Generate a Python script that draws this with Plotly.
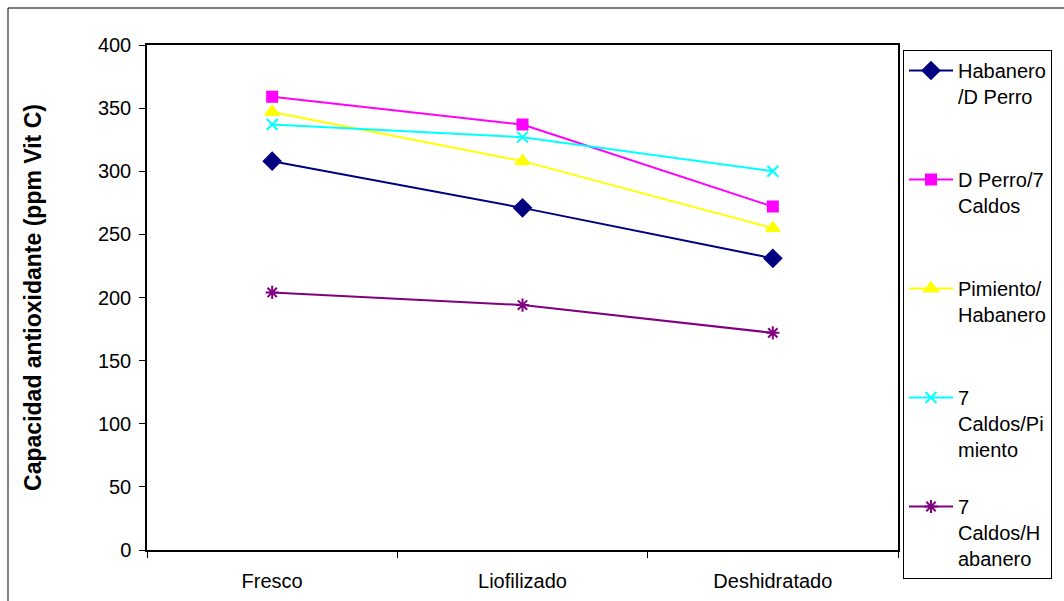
import plotly.graph_objects as go

# Processing methods (x categories)
etapas = ["Fresco", "Liofilizado", "Deshidratado"]

# Antioxidant capacity per cross (ppm Vit C)
habanero_dperro = [308, 271, 231]
dperro_7caldos = [359, 337, 272]
pimiento_habanero = [347, 308, 255]
caldos_pimiento = [337, 327, 300]
caldos_habanero = [204, 194, 172]

y_ticks = [0, 50, 100, 150, 200, 250, 300, 350, 400]

series = [
    ("Habanero<br>/D Perro<br> ", habanero_dperro, "#000080", "diamond", 13),
    ("D Perro/7<br>Caldos<br> ", dperro_7caldos, "#FF00FF", "square", 10),
    ("Pimiento/<br>Habanero<br> ", pimiento_habanero, "#FFFF00", "triangle-up", 12),
    ("7<br>Caldos/Pi<br>miento", caldos_pimiento, "#00FFFF", "x-thin-open", 11),
    ("7<br>Caldos/H<br>abanero", caldos_habanero, "#800080", "asterisk-open", 11),
]

fig = go.Figure()
for i, (name, vals, color, sym, size) in enumerate(series):
    fig.add_trace(go.Scatter(
        x=etapas, y=vals, name=name, mode="lines+markers",
        legendgroup=f"g{i}",
        line=dict(color=color, width=2),
        marker=dict(symbol=sym, size=size, color=color,
                    line=dict(color=color, width=2)),
    ))

W, H = 1064, 601
L, R, T, B = 147, 898, 45, 550
pw, ph = R - L, B - T

fig.update_layout(
    width=W, height=H,
    margin=dict(l=L, r=W - R, t=T, b=H - B),
    paper_bgcolor="white", plot_bgcolor="white",
    font=dict(family="Liberation Sans, Arial, sans-serif", size=20, color="black"),
    showlegend=True,
    legend=dict(
        x=(903 - L) / pw, xanchor="left",
        y=(B - 50) / ph, yanchor="top",
        bordercolor="black", borderwidth=1, bgcolor="white",
        font=dict(size=20), valign="top",
        tracegroupgap=28, traceorder="grouped",
        itemwidth=44, maxheight=560,
    ),
    xaxis=dict(
        type="category", range=[-0.5, 2.5], showgrid=False, showline=True,
        linecolor="black", linewidth=1.5, mirror=True, ticks="outside",
        tickson="boundaries", ticklen=6, tickcolor="black",
        tickfont=dict(size=20), ticklabelstandoff=12, automargin=False,
    ),
    yaxis=dict(
        range=[0, 400], tickvals=y_ticks, showgrid=False, showline=True,
        linecolor="black", linewidth=1.5, mirror=True, ticks="outside",
        ticklen=6, tickcolor="black", tickfont=dict(size=20),
        ticklabelstandoff=4, automargin=False,
        title=dict(text="<b>Capacidad antioxidante (ppm Vit C)</b>",
                   font=dict(size=23), standoff=50),
        zeroline=False,
    ),
    shapes=[dict(
        type="rect", xref="paper", yref="paper",
        x0=(8 - L) / pw, x1=(1070 - L) / pw,
        y0=(B - 610) / ph, y1=(B - 8) / ph,
        line=dict(color="black", width=1), layer="below",
    )],
)

fig.write_html("out.html")
